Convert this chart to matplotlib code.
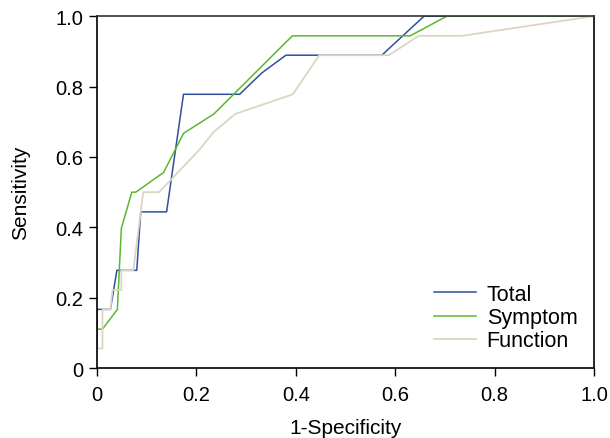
import matplotlib
matplotlib.use("Agg")
import matplotlib.pyplot as plt
import numpy as np

plt.rcParams['font.family'] = ['Liberation Sans', 'DejaVu Sans']

# ROC curves (1-specificity, sensitivity)
total_fpr = [0, 0, 0.027, 0.040, 0.080, 0.088, 0.140, 0.174, 0.287, 0.331, 0.380, 0.573, 0.615, 0.658, 1.0]
total_tpr = [0.056, 0.167, 0.167, 0.278, 0.278, 0.444, 0.444, 0.778, 0.778, 0.838, 0.889, 0.889, 0.944, 1.0, 1.0]

symptom_fpr = [0, 0.011, 0.041, 0.049, 0.070, 0.078, 0.134, 0.174, 0.235, 0.393, 0.630, 0.704, 1.0]
symptom_tpr = [0.111, 0.111, 0.167, 0.397, 0.500, 0.500, 0.556, 0.667, 0.722, 0.944, 0.944, 1.0, 1.0]

function_fpr = [0, 0, 0.011, 0.011, 0.027, 0.031, 0.049, 0.049, 0.073, 0.093, 0.125, 0.207, 0.234, 0.278, 0.394, 0.447, 0.587, 0.647, 0.734, 1.0]
function_tpr = [0, 0.056, 0.056, 0.167, 0.167, 0.222, 0.222, 0.278, 0.278, 0.500, 0.500, 0.622, 0.670, 0.722, 0.778, 0.889, 0.889, 0.944, 0.944, 1.0]

ticks = [0, 0.2, 0.4, 0.6, 0.8, 1.0]
tick_labels = ["0", "0.2", "0.4", "0.6", "0.8", "1.0"]

fig = plt.figure(figsize=(6.10, 4.39), dpi=100)
ax = fig.add_axes([0.159, 0.159, 0.815, 0.802])

ax.plot(total_fpr, total_tpr, color='#2f4f9e', lw=1.1, label='Total')
ax.plot(symptom_fpr, symptom_tpr, color='#58b92e', lw=1.1, label='Symptom')
ax.plot(function_fpr, function_tpr, color='#d9d7c3', lw=1.3, label='Function')

ax.set_xlim(0, 1)
ax.set_ylim(0, 1)
ax.set_xticks(ticks, labels=tick_labels, size=14.5)
ax.set_yticks(ticks, labels=tick_labels, size=14.5)
ax.tick_params(direction='out', length=6, width=1, top=False, right=False)
ax.tick_params(axis='x', pad=6)
ax.tick_params(axis='y', pad=4)

for s in ax.spines.values():
    s.set_linewidth(1.2)
ax.spines['top'].set_color('#333333')

ax.set_xlabel("1-Specificity", size=15, labelpad=10)
ax.set_ylabel("Sensitivity", size=15, labelpad=18)

ax.legend(loc='upper left', bbox_to_anchor=(0.656, 0.27), frameon=False,
          fontsize=15.5, handlelength=1.95, handletextpad=0.5, labelspacing=0.1,
          borderpad=0)

fig.savefig("out.png", dpi=100)
